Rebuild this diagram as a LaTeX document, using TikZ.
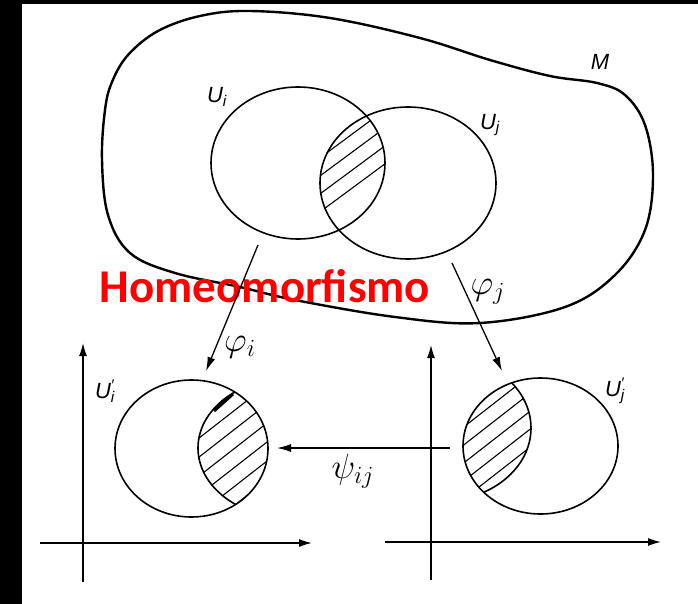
\documentclass[tikz,border=0pt]{standalone}
\usepackage{fix-cm}
\usepackage{fontspec}
\setsansfont{Liberation Sans}
\newfontfamily\bannerfont{Carlito}
\usetikzlibrary{arrows.meta, positioning}
\definecolor{BannerRed}{HTML}{FF0000}
\newcommand{\Ulab}[1]{{\sffamily\itshape U}\textsubscript{\sffamily\itshape #1}}
\newcommand{\Uplab}[1]{{\sffamily\itshape U}\rlap{\textsuperscript{\sffamily\itshape\char"2032}}\textsubscript{\sffamily\itshape #1}}
\newcommand{\maplab}[1]{\scalebox{1.6}{$#1$}}

\begin{document}
\begin{tikzpicture}[x=1pt, y=-1pt,
    outline/.style={line width=2.4pt, line join=round},
    chart/.style={line width=1.6pt},
    hatch/.style={line width=1.1pt},
    axis/.style={line width=1.3pt, -{Latex[length=13pt,width=8pt]}},
    mapto/.style={line width=1.3pt, -{Latex[length=14pt,width=8pt]}},
    lbl/.style={font=\fontsize{22}{26}\selectfont, inner sep=0pt}
  ]
  % frame
  \useasboundingbox (0,0) rectangle (698,604);
  \fill[white] (0,0) rectangle (698,604);
  \fill[black] (0,0) rectangle (22,604);
  \fill[black] (0,0) rectangle (698,4);

  % the manifold
  \draw[outline] plot[smooth cycle, tension=0.6] coordinates {
    (250,11) (330,18) (420,38) (490,60) (550,76) (597,83) (625,95)
    (645,125) (653,175) (645,230) (615,275) (565,307) (480,323)
    (395,317) (295,300) (240,287) (175,273) (130,253) (108,215)
    (102,160) (105,110) (112,82) (128,55) (158,31) (200,16)};
  \node[lbl] (M) at (600,62) {\sffamily\itshape M};

  % charts on M
  \begin{scope}
    \clip (298,163) ellipse [x radius=87pt, y radius=76pt];
    \clip (408,183) ellipse [x radius=88pt, y radius=76pt];
    \foreach \k in {-5,...,5}
      \draw[hatch] (255,170+18*\k) -- (455,22+18*\k);
  \end{scope}
  \draw[chart] (298,163) ellipse [x radius=87pt, y radius=76pt];
  \draw[chart] (408,183) ellipse [x radius=88pt, y radius=76pt];
  \node[lbl] (Ui) at (217,97) {\Ulab{i}};
  \node[lbl] (Uj) at (490,125) {\Ulab{j}};

  \node[font=\bannerfont\bfseries\fontsize{47}{50}\selectfont, text=BannerRed, anchor=base, inner sep=0pt] (title) at (265,302) {Homeomorfismo};

  % left plane
  \coordinate (axLo) at (83,582);
  \coordinate (axLt) at (83,343);
  \coordinate (axLl) at (40,543);
  \coordinate (axLr) at (312,543);
  \draw[axis] (axLo) -- (axLt);
  \draw[axis] (axLl) -- (axLr);
  \begin{scope}
    \clip (191.5,448.5) ellipse [x radius=76.5pt, y radius=68.5pt];
    \clip (290,448) ellipse [x radius=92pt, y radius=70pt];
    \foreach \k in {-6,...,6}
      \draw[hatch] (135,526+19*\k) -- (335,370+19*\k);
  \end{scope}
  \begin{scope}
    \clip (191.5,448.5) ellipse [x radius=76.5pt, y radius=68.5pt];
    \draw[chart] (290,448) ellipse [x radius=92pt, y radius=70pt];
  \end{scope}
  \draw[line width=3pt] (233,394) -- (214,411);
  \draw[chart] (191.5,448.5) ellipse [x radius=76.5pt, y radius=68.5pt];
  \node[lbl] (Uip) at (105,391) {\Uplab{i}};

  % right plane
  \coordinate (axRo) at (431,580);
  \coordinate (axRt) at (431,345);
  \coordinate (axRl) at (385,542);
  \coordinate (axRr) at (661,542);
  \draw[axis] (axRo) -- (axRt);
  \draw[axis] (axRl) -- (axRr);
  \begin{scope}
    \clip (540.5,446) ellipse [x radius=77.5pt, y radius=68pt];
    \clip (441,428) ellipse [x radius=90pt, y radius=73pt];
    \foreach \k in {-6,...,6}
      \draw[hatch] (397,515+18*\k) -- (597,359+18*\k);
  \end{scope}
  \begin{scope}
    \clip (540.5,446) ellipse [x radius=77.5pt, y radius=68pt];
    \draw[chart] (441,428) ellipse [x radius=90pt, y radius=73pt];
  \end{scope}
  \draw[chart] (540.5,446) ellipse [x radius=77.5pt, y radius=68pt];
  \node[lbl] (Ujp) at (615,391) {\Uplab{j}};

  % maps
  \coordinate (phiiS) at (258,245);
  \coordinate (phiiE) at (206,371);
  \coordinate (phijS) at (452,263);
  \coordinate (phijE) at (502,371);
  \coordinate (psiS) at (450,448);
  \coordinate (psiE) at (277,448);
  \draw[mapto] (phiiS) -- (phiiE);
  \draw[mapto] (phijS) -- (phijE);
  \draw[mapto] (psiS) -- (psiE);
  \node[lbl] (phii) at (240,347) {\maplab{\varphi_i}};
  \node[lbl] (phij) at (488,292) {\maplab{\varphi_j}};
  \node[lbl] (psiij) at (353,471) {\maplab{\psi_{ij}}};
\end{tikzpicture}
\end{document}
